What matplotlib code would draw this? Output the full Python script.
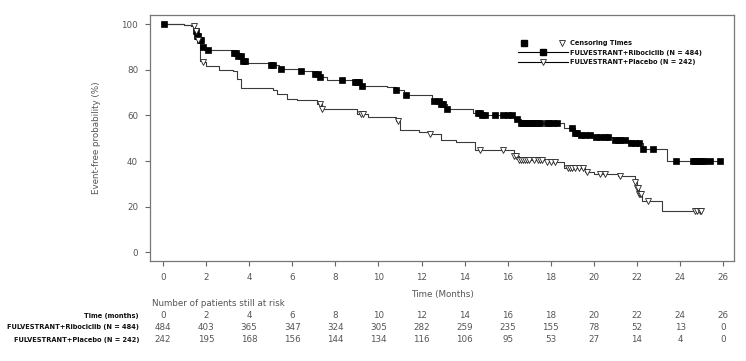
import numpy as np
import matplotlib
matplotlib.use("Agg")
import matplotlib.pyplot as plt
from matplotlib.lines import Line2D
from matplotlib.legend_handler import HandlerTuple
from matplotlib.transforms import blended_transform_factory
from matplotlib import font_manager as fm

# ---------------- data ----------------
ribo_t = [0, 1.0, 1.3, 1.5, 1.6, 1.7, 1.8, 1.9, 3.3, 3.5, 3.7, 3.9, 5.0, 5.4, 6.4, 7.0,
          7.3, 7.6, 8.8, 9.2, 10.4, 10.8, 11.2, 12.5, 12.9, 13.2, 14.4, 14.8, 16.3, 16.6,
          18.6, 19.1, 19.3, 20.1, 20.9, 21.7, 22.3, 23.4, 25.9]
ribo_s = [100, 99.5, 99, 97, 95, 93, 90, 88.5, 87.5, 86, 84, 83, 82, 80.5, 79.5, 78,
          77, 75.5, 74.5, 73, 72.3, 71.3, 69, 66.5, 65, 63, 61, 60, 58.5, 56.5,
          54.5, 52.5, 51.3, 50.6, 49.4, 47.7, 45.2, 40.2, 40.2]
ribo_cens = [0.05, 1.55, 1.6, 1.65, 1.7, 1.75, 1.85, 2.1, 3.3, 3.4, 3.5, 3.6, 3.7, 3.8,
             5.0, 5.1, 5.5, 6.4, 7.05, 7.2, 7.3, 8.3, 8.9, 9.0, 9.1, 9.25, 10.8, 11.3,
             12.6, 12.8, 12.9, 13.0, 13.2, 14.6, 14.7, 14.8, 14.95, 15.4, 15.8, 16.0,
             16.2, 16.45, 16.6, 16.7, 16.8, 16.9, 17.0, 17.1, 17.2, 17.3, 17.4, 17.5,
             17.8, 17.9, 18.1, 18.3, 19.0, 19.1, 19.2, 19.4, 19.6, 19.8, 20.1, 20.3,
             20.5, 20.65, 21.0, 21.1, 21.2, 21.45, 21.7, 21.9, 22.1, 22.3, 22.75, 23.8,
             24.6, 24.7, 24.8, 24.9, 25.0, 25.1, 25.4, 25.85]

plac_t = [0, 1.0, 1.3, 1.5, 1.6, 1.7, 1.85, 2.0, 2.6, 3.25, 3.45, 3.6, 5.1, 5.3, 5.75,
          6.2, 7.15, 7.4, 9.0, 9.5, 10.8, 11.0, 11.9, 12.4, 12.9, 13.6, 14.5, 16.3,
          16.5, 17.8, 18.6, 19.6, 20.0, 21.1, 21.9, 22.0, 22.1, 22.25, 23.15, 24.95]
plac_s = [100, 99.5, 99, 97, 93, 84, 83.5, 81.5, 80, 79.5, 76, 72.2, 71, 69.6, 67.1,
          66.7, 65.2, 63, 60.8, 59.2, 57.5, 53.8, 52.8, 52, 49.2, 48.4, 44.7, 42,
          40.5, 39.8, 36.8, 35, 34.5, 33.3, 31, 28, 25.5, 22.5, 18, 18]
plac_cens = [1.45, 1.55, 1.65, 1.85, 7.3, 7.4, 9.2, 9.3, 10.9, 12.4, 14.7, 15.8, 16.3,
             16.4, 16.5, 16.6, 16.7, 16.8, 16.9, 17.0, 17.2, 17.4, 17.5, 17.6, 17.8,
             18.0, 18.2, 18.8, 18.9, 19.0, 19.1, 19.3, 19.5, 19.7, 20.3, 20.5, 21.2,
             21.9, 22.0, 22.05, 22.1, 22.15, 22.2, 22.5, 24.7, 24.8, 24.9, 24.95]

risk_times = [0, 2, 4, 6, 8, 10, 12, 14, 16, 18, 20, 22, 24, 26]
risk_ribo = [484, 403, 365, 347, 324, 305, 282, 259, 235, 155, 78, 52, 13, 0]
risk_plac = [242, 195, 168, 156, 144, 134, 116, 106, 95, 53, 27, 14, 4, 0]

label_ribo = "FULVESTRANT+Ribociclib (N = 484)"
label_plac = "FULVESTRANT+Placebo (N = 242)"

# ---------------- fonts ----------------
cond_fp = None
for f in fm.fontManager.ttflist:
    if f.stretch in ("condensed", "semi-condensed", "extra-condensed") and f.weight in (700, "bold"):
        if "Sans" in f.name or "Narrow" in f.name or "Condensed" in f.name:
            cond_fp = fm.FontProperties(fname=f.fname)
            break
if cond_fp is not None:
    bold_size = 5.3
else:
    cond_fp = fm.FontProperties(family="Liberation Sans", weight="bold")
    bold_size = 4.9

# ---------------- figure ----------------
W, H = 746, 361
fig = plt.figure(figsize=(W / 100, H / 100), dpi=100)
ax = fig.add_axes([150 / W, 1 - 261 / H, (734 - 150) / W, (261 - 15) / H])

line_col = "#3a3a3a"
txt_col = "#555555"


def surv_at(times, surv, t):
    idx = np.searchsorted(times, t, side="right") - 1
    return np.asarray(surv)[idx]


ax.step(ribo_t, ribo_s, where="post", color=line_col, lw=0.8)
ax.step(plac_t, plac_s, where="post", color=line_col, lw=0.8)

ax.plot(ribo_cens, surv_at(ribo_t, ribo_s, ribo_cens), ls="none", marker="s",
        ms=3.7, mfc="black", mec="black", mew=0.5)
ax.plot(plac_cens, surv_at(plac_t, plac_s, plac_cens), ls="none", marker="v",
        ms=3.8, mfc="white", mec="#222222", mew=0.6)

ax.set_xlim(-0.6, 26.5)
ax.set_ylim(-3.8, 104)
ax.set_xticks(risk_times)
ax.set_yticks([0, 20, 40, 60, 80, 100])
ax.tick_params(direction="out", length=3.5, width=0.8, colors="#666666",
               labelcolor=txt_col, labelsize=6.3, pad=5)
for sp in ax.spines.values():
    sp.set_color("#777777")
    sp.set_linewidth(0.9)

ax.set_xlabel("Time (Months)", fontsize=6.3, color=txt_col, labelpad=6)
ax.set_ylabel("Event-free probability (%)", fontsize=6.3, color=txt_col, labelpad=15)

# legend
legend_prop = cond_fp.copy()
legend_prop.set_size(bold_size)
h_cens_sq = Line2D([], [], ls="none", marker="s", ms=4.5, mfc="black", mec="black")
h_cens_tr = Line2D([], [], ls="none", marker="v", ms=5, mfc="white", mec="#222222", mew=0.6)
h_ribo = Line2D([], [], color="black", lw=0.8, marker="s", ms=5, mfc="black", mec="black")
h_plac = Line2D([], [], color="black", lw=0.8, marker="v", ms=5, mfc="white",
                mec="#222222", mew=0.6)
hl_pts = 50 * 0.72  # handle length in points
leg = fig.legend([(h_cens_sq, h_cens_tr), h_ribo, h_plac],
                 ["Censoring Times", label_ribo, label_plac],
                 handler_map={tuple: HandlerTuple(ndivide=None, pad=26 * 0.72 / bold_size)},
                 loc="upper left", bbox_to_anchor=(518 / W, 1 - 40 / H),
                 bbox_transform=fig.transFigure, frameon=False,
                 borderpad=0, borderaxespad=0,
                 handlelength=hl_pts / bold_size, handletextpad=0.3, labelspacing=0.45,
                 prop=legend_prop)
for t in leg.get_texts():
    t.set_color("#111111")

# risk table
tr = blended_transform_factory(ax.transData, fig.transFigure)


def fy(py):
    return 1 - py / H


fig.text(152 / W, fy(303), "Number of patients still at risk", fontsize=6.3,
         color=txt_col, va="center", ha="left")
rows = [("Time (months)", risk_times, 316),
        (label_ribo, risk_ribo, 327),
        (label_plac, risk_plac, 340)]
for lab, vals, py in rows:
    fig.text(139 / W, fy(py), lab, fontproperties=cond_fp, fontsize=bold_size,
             color="#111111", ha="right", va="center")
    for t, v in zip(risk_times, vals):
        ax.text(t, fy(py), str(v), transform=tr, fontsize=6.3, color=txt_col,
                ha="center", va="center")

fig.savefig("out.png", dpi=100)
